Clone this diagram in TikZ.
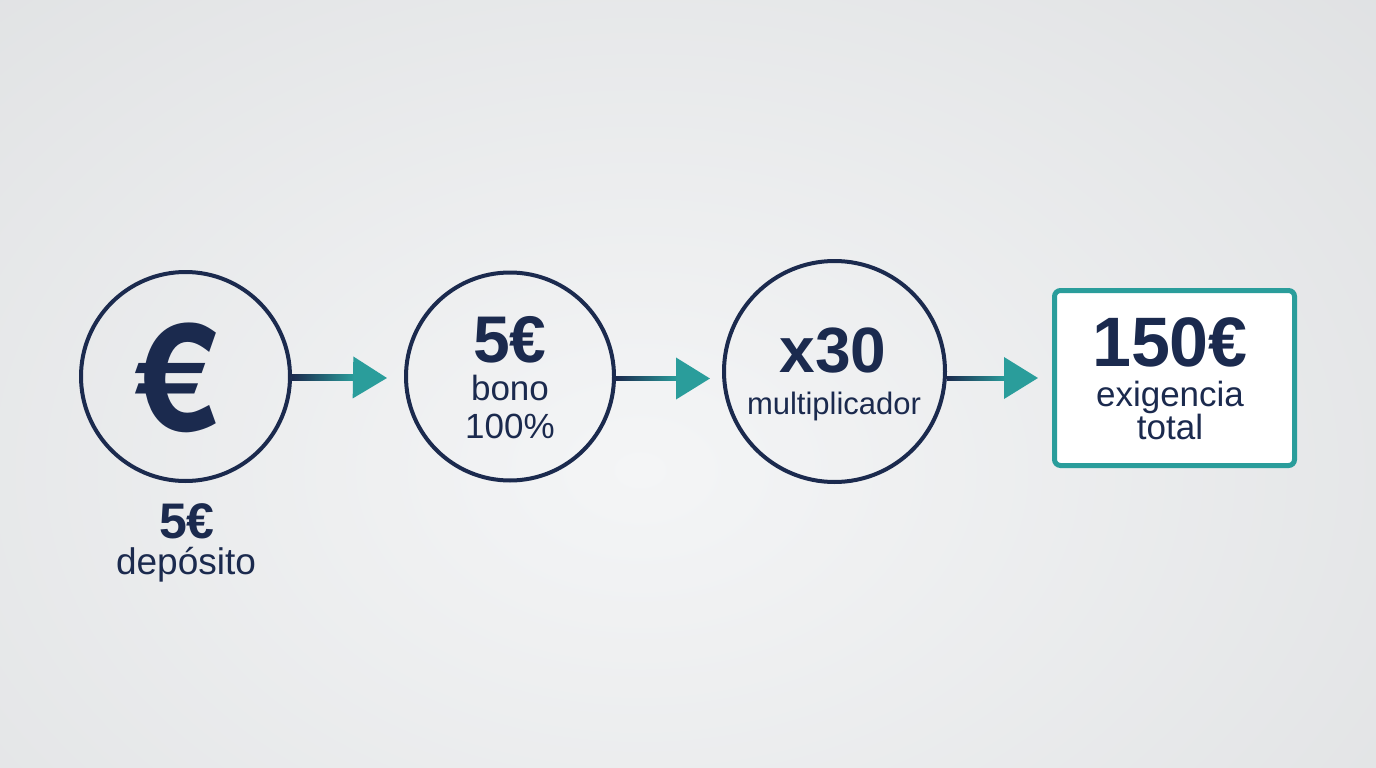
\documentclass[tikz,border=0pt]{standalone}
\usepackage{fontspec}
\setmainfont{Liberation Sans}
\newfontfamily\eurofont{TeX Gyre Heros}
\usetikzlibrary{arrows.meta,calc}
\definecolor{navy}{HTML}{1B2A4E}
\definecolor{tealc}{HTML}{2A9D9B}
\definecolor{bgin}{HTML}{F4F5F6}
\definecolor{bgout}{HTML}{D6D8DA}
\tikzset{
  ring/.style={circle, draw=navy, line width=4pt, inner sep=0pt},
  txt/.style={text=navy, inner sep=0pt, anchor=base, align=center},
  flow/.style={line width=4pt, draw=navy!40!tealc, -{Triangle[length=34pt,width=41pt,color=tealc,fill=tealc]}},
  grad/.style={left color=navy, right color=tealc}
}
\begin{document}
\begin{tikzpicture}[x=1pt,y=-1pt]
% background
\useasboundingbox (0,0) rectangle (1376,768);
\fill[bgout] (0,0) rectangle (1376,768);
\begin{scope}
\clip (0,0) rectangle (1376,768);
\shade[inner color=bgin, outer color=bgout] (640,470) ellipse [x radius=1500, y radius=1050];
\end{scope}

% nodes
\node[ring, minimum size=209pt] (c1) at (185.5,376.5) {};
\node[ring, minimum size=208pt] (c2) at (510,376.5) {};
\node[ring, minimum size=221pt] (c3) at (834.5,371.5) {};
\node[draw=tealc, line width=5pt, fill=white, rounded corners=6pt, minimum width=240pt, minimum height=175pt, inner sep=0pt] (box) at (1174.5,378) {};

% texts
\node[txt] (euro) at (176,431) {\fontsize{150}{150}\selectfont\eurofont\bfseries €};
\node[txt] (d1) at (187,538) {\fontsize{50}{50}\selectfont\bfseries 5€};
\node[txt] (d2) at (186,574) {\fontsize{37}{37}\selectfont depósito};

\node[txt] (b1) at (510,362) {\fontsize{66}{66}\selectfont\bfseries 5€};
\node[txt, font={\fontsize{35}{38}\selectfont}] (b2) at (510,438) {bono\\100\%};

\node[txt] (m1) at (833,372) {\fontsize{64}{64}\selectfont\bfseries x30};
\node[txt] (m2) at (834,414) {\fontsize{31}{31}\selectfont multiplicador};

\node[txt] (t1) at (1170,366) {\fontsize{70}{70}\selectfont\bfseries 150€};
\node[txt, font={\fontsize{35}{33}\selectfont\lineskiplimit=-100pt}] (t2) at (1170,439) {exigencia\\total};

% connectors
\coordinate (e1) at ($(c2.west)+(-17,1.5)$);
\coordinate (e2) at ($(c3.west)+(-12,7)$);
\coordinate (e3) at ($(box.west)+(-14,0)$);
\coordinate (s3) at (c3.-3);

\draw[flow] (c1.east) -- (e1);
\shade[grad] ($(c1.east)+(0,-2)$) rectangle ($(e1)+(-33,2)$);
\draw[flow] (c2.east |- e2) -- (e2);
\shade[grad] ($(c2.east |- e2)+(0,-2)$) rectangle ($(e2)+(-33,2)$);
\draw[flow] (s3 |- e3) -- (e3);
\shade[grad] ($(s3 |- e3)+(0,-2)$) rectangle ($(e3)+(-33,2)$);
\end{tikzpicture}
\end{document}
